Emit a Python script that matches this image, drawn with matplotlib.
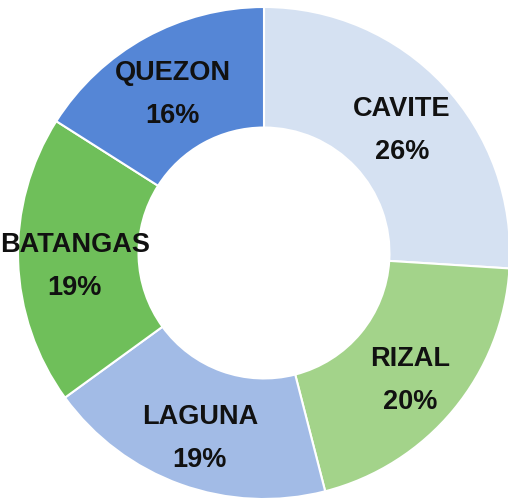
import matplotlib
matplotlib.use("Agg")
from matplotlib import pyplot as plt

# provinces, clockwise from 12 o'clock
provinces = ["CAVITE", "RIZAL", "LAGUNA", "BATANGAS", "QUEZON"]
shares = [26, 20, 19, 19, 16]
colors = ["#d5e1f2", "#a3d38a", "#a2bbe6", "#6fbf5a", "#5586d6"]

labels = [p + "\n" + str(s) + "%" for p, s in zip(provinces, shares)]

fig = plt.figure(figsize=(5.08, 5.02), dpi=100)
ax = fig.add_axes([0, 0, 1, 1])

wedges, texts = ax.pie(shares, labels=labels, colors=colors,
                       startangle=90, counterclock=False,
                       labeldistance=0.77,
                       wedgeprops=dict(width=0.49, edgecolor="white", linewidth=1.5),
                       textprops=dict(fontsize=19.5, fontweight="bold", color="#111111",
                                      family=["Liberation Sans", "DejaVu Sans"],
                                      ha="center", va="center", linespacing=1.85))
# labels sit a touch lower in the original
for t in texts:
    x, y = t.get_position()
    t.set_position((x, y - 0.025))

# circle centre sits slightly right of middle, ring runs off the right edge
ax.set_xlim(-264/246, 244/246)
ax.set_ylim(-248/246, 254/246)
ax.set_aspect("auto")
ax.axis("off")

fig.savefig("out.png", dpi=100)
